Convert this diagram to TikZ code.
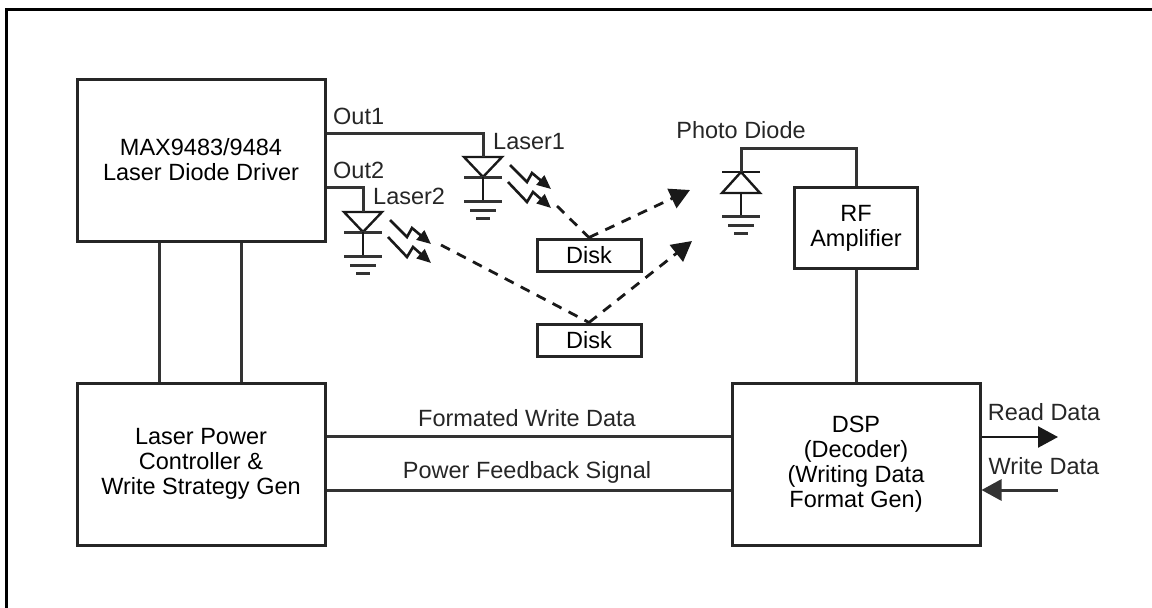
\documentclass[tikz,border=0pt]{standalone}
\usepackage{fontspec}
\setmainfont{Liberation Sans}
\usetikzlibrary{arrows.meta}
\tikzset{
  block/.style={draw, black!85, text=black, line width=3pt, minimum width=248pt, minimum height=162pt, align=center, inner sep=0pt},
  smallblock/.style={draw, black!85, text=black, line width=3pt, align=center, inner sep=0pt},
  lbl/.style={inner sep=0pt, text=black!85},
  wire/.style={line width=3pt, black!80},
  thinwire/.style={line width=2.4pt, black!90},
  ray/.style={line width=2.8pt, black!90, dash pattern=on 10pt off 8pt},
  bigtip/.style={-{Triangle[length=20pt,width=21pt]}},
  pics/ground/.style={code={
    \draw[wire] (-19,0) -- (19,0) ;
    \draw[wire] (-13,9) -- (13,9) ;
    \draw[wire] (-7,17) -- (7,17) ;
  }},
  pics/laserdiode/.style={code={
    \draw[thinwire] (-19,0) -- (19,0) -- (0,20) -- cycle ;
    \draw[wire] (-19,20) -- (19,20) ;
    \draw[thinwire] (0,20) -- (0,44) ;
    \pic at (0,44) {ground} ;
  }},
  pics/photodiode/.style={code={
    \draw[thinwire] (-19,21) -- (19,21) -- (0,0) -- cycle ;
    \draw[thinwire] (-19,0) -- (19,0) ;
    \draw[thinwire] (0,21) -- (0,44) ;
    \pic at (0,44) {ground} ;
  }},
  pics/lightbeam/.style={code={
    \draw[line width=2.6pt, black!90, -{Triangle[length=14pt,width=12pt]}] (0,0) -- (17,17) -- (22,8) -- (41,24) ;
    \draw[line width=2.6pt, black!90, -{Triangle[length=14pt,width=12pt]}] (-2,17) -- (17,37) -- (23,27) -- (41,43) ;
  }},
}
\begin{document}
\begin{tikzpicture}[x=1pt, y=-1pt, font=\fontsize{23.5}{25}\selectfont]
  \useasboundingbox (0,0) rectangle (1152,608) ;
  % Frame
  \draw[line width=3pt] (6,608) -- (6,9) -- (1152,9) ;
  % Nodes
  \node[block] (driver) at (201,160) {MAX9483/9484\\Laser Diode Driver} ; %
  \node[block] (controller) at (201,464) {Laser Power\\Controller \&\\Write Strategy Gen} ; %
  \node[block] (dsp) at (856,464) {DSP\\(Decoder)\\(Writing Data\\Format Gen)} ; %
  \node[smallblock, minimum width=123pt, minimum height=81pt] (rf) at (856,228) {RF\\Amplifier} ; %
  \node[smallblock, minimum width=104pt, minimum height=32pt] (diskA) at (589,255) {Disk} ; %
  \node[smallblock, minimum width=104pt, minimum height=32pt] (diskB) at (589,340) {Disk} ; %
  \coordinate (laserA) at (483,157) ; %
  \coordinate (laserB) at (363,212) ; %
  \coordinate (photo) at (741,172) ; %
  \coordinate (outA) at (driver.east |- 0,133) ; %
  \coordinate (outB) at (driver.east |- 0,187) ; %
  \coordinate (beamA) at (557,206) ; %
  \coordinate (beamB) at (441,245) ; %
  \coordinate (tipA) at (690,190) ; %
  \coordinate (tipB) at (692,241) ; %
  \coordinate (readOut) at (1058,437) ; %
  \coordinate (writeIn) at (1058,490) ; %
  % Parts
  \pic at (laserA) {laserdiode} ; %
  \pic at (laserB) {laserdiode} ; %
  \pic at (photo) {photodiode} ; %
  \pic at (510,165) {lightbeam} ; %
  \pic at (390,220) {lightbeam} ; %
  % Wires
  \draw[wire] (outA) -| (laserA) ; %
  \draw[wire] (outB) -| (laserB) ; %
  \draw[wire] (photo) |- (856,148) -- (rf.north) ; %
  \draw[wire] (rf.south) -- (dsp.north) ; %
  \draw[wire] (driver.south -| 159,0) -- (controller.north -| 159,0) ; %
  \draw[wire] (driver.south -| 241,0) -- (controller.north -| 241,0) ; %
  \draw[wire] (controller.east |- 0,436) -- (dsp.west |- 0,436) ; %
  \draw[wire] (controller.east |- 0,490) -- (dsp.west |- 0,490) ; %
  \draw[thinwire, bigtip] (dsp.east |- readOut) -- (readOut) ; %
  \draw[wire, bigtip] (writeIn) -- (dsp.east |- writeIn) ; %
  % Light paths
  \draw[ray] (beamA) -- (diskA.north) ; %
  \draw[ray] (beamB) -- (diskB.north) ; %
  \draw[ray, bigtip] (diskA.north) -- (tipA) ; %
  \draw[ray, bigtip] (diskB.north) -- (tipB) ; %
  % Labels
  \node[lbl, anchor=west] (outAlabel) at (333,116) {Out1} ; %
  \node[lbl, anchor=west] (outBlabel) at (333,170) {Out2} ; %
  \node[lbl, anchor=west] (laserAlabel) at (493,142) {Laser1} ; %
  \node[lbl, anchor=west] (laserBlabel) at (373,196) {Laser2} ; %
  \node[lbl] (photolabel) at (741,130) {Photo Diode} ; %
  \node[lbl] (writelabel) at (527,418) {Formated Write Data} ; %
  \node[lbl] (feedbacklabel) at (527,472) {Power Feedback Signal} ; %
  \node[lbl] (readlabel) at (1044,412) {Read Data} ; %
  \node[lbl] (writedatalabel) at (1044,466) {Write Data} ; %
\end{tikzpicture}
\end{document}
